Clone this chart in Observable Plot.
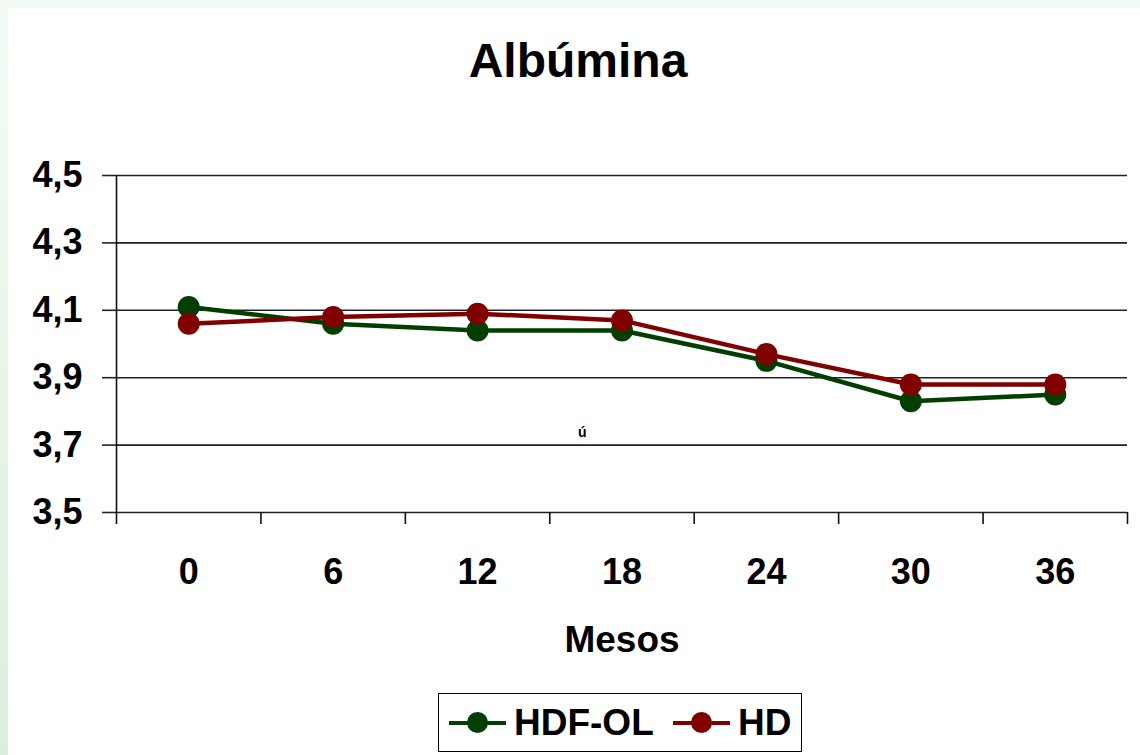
<!DOCTYPE html>
<html>
<head>
<meta charset="utf-8">
<script src="https://cdn.jsdelivr.net/npm/d3@7"></script>
<script src="https://cdn.jsdelivr.net/npm/@observablehq/plot@0.6"></script>
<style>
  html, body { margin: 0; padding: 0; }
  body { width: 1140px; height: 755px; overflow: hidden; font-family: "Liberation Sans", Arial, sans-serif; }
  #page { position: relative; width: 1140px; height: 755px;
    background: linear-gradient(to bottom, #f4faf5, #dbefe1); }
  #panel { position: absolute; left: 8px; top: 8px; right: 0; bottom: 0; background: #fff; }
  #chart { position: absolute; left: 0; top: 0; }
  .title { position: absolute; left: 0; width: 1156px; top: 34px; text-align: center; font-weight: bold; font-size: 48px; line-height: 54px; color: #000; }
  .xlabel { position: absolute; left: 0; width: 1244px; top: 618px; text-align: center; font-weight: bold; font-size: 37px; line-height: 44px; color: #000; }
  .stray { position: absolute; left: 578px; top: 424px; font-weight: bold; font-size: 14px; line-height: 16px; }
  #legend { position: absolute; left: 438px; top: 693px; width: 364px; height: 59px; border: 1.5px solid #000; box-sizing: border-box; background: #fff; }
  .item { position: absolute; top: 9px; font-weight: bold; font-size: 37px; line-height: 40px; color: #000; display: flex; align-items: center; }
  .sw { position: relative; width: 57px; height: 40px; margin-right: 8px; }
  .sw .ln { position: absolute; left: 0; right: 0; top: 18px; height: 4px; }
  .sw .dt { position: absolute; left: 18px; top: 9px; width: 21px; height: 21px; border-radius: 50%; }
</style>
</head>
<body>
<div id="page">
  <div id="panel"></div>
  <div id="chart"></div>
  <div class="title">Albúmina</div>
  <div class="stray">ú</div>
  <div class="xlabel">Mesos</div>
  <div id="legend"></div>
</div>
<script>
// ---- data ----
const months = [0, 6, 12, 18, 24, 30, 36];
const hdfol = [4.11, 4.06, 4.04, 4.04, 3.95, 3.83, 3.85];
const hd = [4.06, 4.08, 4.09, 4.07, 3.97, 3.88, 3.88];
const seriesNames = ["HDF-OL", "HD"];
const seriesColors = ["#003f00", "#800000"];
const yTicks = [3.5, 3.7, 3.9, 4.1, 4.3, 4.5];
const xAxisTitle = "Mesos";

const rowsA = months.map((m, i) => ({mes: m, v: hdfol[i]}));
const rowsB = months.map((m, i) => ({mes: m, v: hd[i]}));
const step = months[1] - months[0];
const bounds = months.map(m => m - step / 2).concat([months[months.length - 1] + step / 2]);
const fmt = d => d.toFixed(1).replace(".", ",");

const chart = Plot.plot({
  width: 1140,
  height: 600,
  marginLeft: 116,
  marginRight: 13,
  marginTop: 175,
  marginBottom: 88,
  style: {background: "transparent", fontFamily: "'Liberation Sans', Arial, sans-serif", fontWeight: "bold", color: "#000"},
  x: {type: "linear", domain: [bounds[0], bounds[bounds.length - 1]]},
  y: {domain: [yTicks[0], yTicks[yTicks.length - 1]]},
  marks: [
    Plot.gridY(yTicks, {stroke: "#222", strokeOpacity: 1, strokeWidth: 1.6}),
    Plot.axisY({ticks: yTicks, tickSize: 14, tickPadding: 20, tickFormat: fmt, fontSize: 36, fontWeight: "bold", stroke: "#222", strokeWidth: 1.6, label: null}),
    Plot.axisX({ticks: bounds, tickSize: 12, tickFormat: () => "", stroke: "#111", strokeWidth: 1.6, label: null}),
    Plot.axisX({ticks: months, tickSize: 0, tickPadding: 46, tickFormat: d => String(d), fontSize: 36, fontWeight: "bold", label: null}),
    Plot.ruleX([bounds[0]], {stroke: "#111", strokeWidth: 1.6}),
    Plot.line(rowsA, {x: "mes", y: "v", stroke: seriesColors[0], strokeWidth: 4.5}),
    Plot.dot(rowsA, {x: "mes", y: "v", r: 11, fill: seriesColors[0], stroke: null}),
    Plot.line(rowsB, {x: "mes", y: "v", stroke: seriesColors[1], strokeWidth: 4.5}),
    Plot.dot(rowsB, {x: "mes", y: "v", r: 11, fill: seriesColors[1], stroke: null})
  ]
});
document.getElementById("chart").appendChild(chart);
document.querySelector(".xlabel").textContent = xAxisTitle;

// legend
const lg = document.getElementById("legend");
const lefts = [10, 234];
seriesNames.forEach((name, i) => {
  const it = document.createElement("div");
  it.className = "item";
  it.style.left = lefts[i] + "px";
  it.innerHTML = `<div class="sw"><div class="ln" style="background:${seriesColors[i]}"></div><div class="dt" style="background:${seriesColors[i]}"></div></div><span>${name}</span>`;
  lg.appendChild(it);
});
</script>
</body>
</html>
